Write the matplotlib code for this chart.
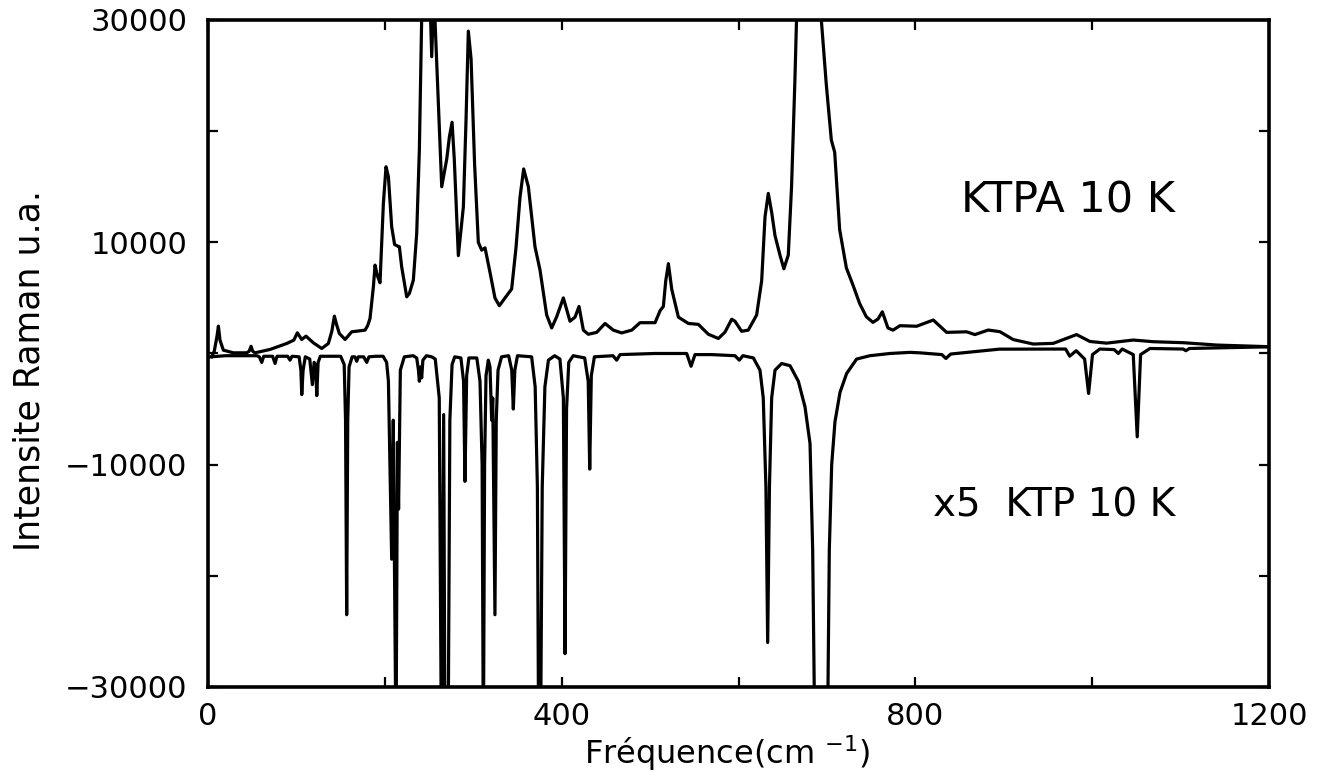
import matplotlib
matplotlib.use('Agg')
import matplotlib.pyplot as plt
import matplotlib.ticker as ticker

# KTPA 10 K spectrum (values above 30000 are clipped)
ktpa_freq = [4, 7, 10, 11.7, 13.5, 17.3, 28.6, 43.7, 46.5, 48.6, 50.5, 53.2, 70, 89, 97, 101,
             105.9, 110.8, 119.1, 128.6, 136.1, 140, 142.9, 145, 148.5, 155, 162.5, 177.6, 180.5,
             183.2, 185, 187, 188.9, 191.5, 194.5, 196.5, 198.3, 201.3, 204, 207.7, 211, 214.5,
             216.4, 219, 224.7, 227.7, 232.2, 236, 239, 241.6, 243.5, 249.5, 253, 255.5, 256.7,
             262.3, 264.3, 270, 273, 276, 278.5, 283.1, 288.8, 291.8, 294.4, 297.5, 301.5, 305.7,
             309.5, 313.3, 318.9, 324.5, 329.5, 335.9, 343.4, 348.3, 352.9, 357, 362.3, 369.8,
             375.5, 383, 388.7, 394.3, 401.9, 409.4, 415.1, 419.6, 424.5, 430.1, 439.6, 449,
             458.4, 467.9, 479.2, 488.6, 505.6, 511.3, 515, 517.7, 520.7, 524.5, 532, 543.3,
             554.6, 565.9, 577.2, 584.7, 592.3, 596, 603.5, 611, 620.5, 626.2, 630, 633.7, 637.5,
             641.3, 646.9, 651.3, 656.3, 660, 663.8, 665.7, 668, 690, 693.7, 699.3, 705, 708.8,
             714.4, 722, 729.5, 737, 744.6, 752.1, 757.8, 762.7, 769, 774.7, 782.6, 801.5, 820.3,
             835.4, 858, 867.4, 882.5, 895.7, 910.8, 933.4, 956, 982.4, 997.5, 1016.3, 1046.5,
             1069, 1103, 1140.6, 1200]
ktpa_int = [-300, 200, 1500, 2460, 1200, 300, 60, 60, 200, 650, 200, 60, 360, 900, 1200, 1860,
            1260, 1560, 960, 450, 900, 2000, 3360, 2700, 1800, 1260, 1950, 2100, 2500,
            3150, 4500, 6000, 7950, 7000, 6360, 10000, 13500, 16800, 15900, 11400, 9800, 9660,
            9600, 7800, 5100, 5400, 6600, 10800, 18300, 30000, 36000, 36000, 26700, 33000, 30000,
            18850, 15000, 17500, 19500, 20800, 17500, 8800, 13200, 21000, 29000, 26500, 17000, 10000,
            9300, 9500, 7300, 5000, 4300, 5000, 5800, 9500, 14100, 16600, 15000, 9600,
            7500, 3460, 2300, 3300, 5000, 2900, 3270, 4230, 2100, 1730, 1900, 2700,
            2100, 1850, 2100, 2770, 2770, 3850, 4230, 6540, 8080, 5770, 3270, 2700,
            2620, 1730, 1350, 1920, 3080, 2900, 2000, 2100, 3460, 6540, 12300, 14400, 12700,
            10600, 8850, 7620, 8850, 15000, 24600, 30000, 38000, 38000, 30000, 24200, 19200, 18100,
            11150, 7700, 6150, 4500, 3300, 2800, 3100, 3750, 2300, 2100, 2500, 2450, 3010,
            1900, 1950, 1700, 2110, 1960, 1250, 850, 910, 1700, 1080, 930, 1210,
            1060, 970, 760, 610]

# x5 KTP 10 K spectrum, drawn downwards (values below -30000 are clipped)
ktp_freq = [3, 20, 55, 58, 60.7, 63, 73, 75.8, 78, 90, 92.7, 95, 103, 105, 106, 107.5, 110, 115,
            118, 120, 121.5, 123, 124.5, 127, 150, 154, 155.5, 156.8, 158, 159.5, 163, 166, 168.2,
            170, 176, 179.5, 182, 190, 198, 202, 204, 207.7, 209.5, 212.6, 214.2, 215.5, 217.5,
            222, 232, 236, 238, 239, 240.5, 241.6, 243, 247, 253, 257, 261.5, 264, 266.5, 268,
            271.5, 273.5, 276, 279, 286, 289, 290.6, 292.5, 295, 304, 307.6, 310, 311.4, 312.8,
            314.4, 317, 318.9, 320.8, 322, 324.5, 326, 328, 332, 340, 343.5, 345.3, 347, 350, 366,
            370, 372.5, 374, 376, 378, 381, 385, 392, 398, 401.9, 403.8, 405.5, 408, 413, 426, 430,
            431.7, 433.5, 437, 458, 462.2, 466, 505.6, 541.4, 546.3, 550.8, 569.6, 596, 600.9,
            605, 616.8, 624.3, 628, 631, 633, 635, 637.5, 641.3, 648.8, 658.3, 667.7, 675.2, 680.9,
            683.9, 686.5, 700.5, 702.7, 705.4, 709.1, 714.8, 722.3, 733.6, 748.7, 771.3, 793.9,
            805, 830, 834.6, 840, 895, 970, 974.6, 982, 991.5, 996, 1000.4, 1008.7, 1025, 1029.6,
            1034, 1046.5, 1051, 1054.8, 1065.4, 1103, 1106, 1110, 1200]
ktp_int = [-300, -200, -200, -300, -800, -250, -250, -900, -250, -250, -600, -250, -300, -1500,
           -3700, -1500, -300, -500, -2800, -800, -1000, -3800, -800, -250, -250, -1000, -6000,
           -23500, -6000, -1200, -300, -300, -700, -300, -300, -800, -300, -250, -250, -800, -2500,
           -18500, -6000, -36000, -8000, -14000, -1500, -300, -200, -400, -1500, -2500, -1200,
           -2200, -600, -200, -300, -500, -4000, -36000, -5500, -36000, -36000, -6000, -1000, -300,
           -400, -2500, -11500, -2000, -400, -400, -2500, -10000, -36000, -10000, -2000, -600,
           -1200, -6000, -4000, -23500, -6000, -1500, -300, -200, -1500, -5000, -1500, -200, -300,
           -3000, -12000, -36000, -36000, -12000, -3000, -600, -200, -500, -4000, -27000, -5000,
           -800, -200, -400, -2500, -10400, -2000, -300, -200, -600, -100, 0, 0, -1150, -100,
           -100, -200, -600, -200, -400, -1500, -4000, -12000, -26000, -12000, -4000, -1500, -900,
           -1100, -2500, -4800, -8100, -17700, -36000, -36000, -17700, -10000, -6150, -3500,
           -1800, -500, -200, 0, 100, 60, -100, -450, -50, 390, 400, -240, 250, -500, -3600, -100,
           400, 350, 0, 400, -100, -7500, -100, 450, 400, 250, 450, 600]

x_major = [0, 400, 800, 1200]
x_minor = [200, 600, 1000]
y_major = [-30000, -10000, 10000, 30000]
y_minor = [-20000, 0, 20000]
y_tick_labels = ['\u221230000', '\u221210000', '10000', '30000']

fig = plt.figure(figsize=(13.21, 7.78), dpi=100, facecolor='w')
ax = fig.add_axes([0.1575, 0.117, 0.8031, 0.8573])

ax.plot(ktpa_freq, ktpa_int, color='k', linewidth=2.3)
ax.plot(ktp_freq, ktp_int, color='k', linewidth=2.3)

ax.set_xlim(0, 1200)
ax.set_ylim(-30000, 30000)

ax.xaxis.set_major_locator(ticker.FixedLocator(x_major))
ax.xaxis.set_minor_locator(ticker.FixedLocator(x_minor))
ax.yaxis.set_major_locator(ticker.FixedLocator(y_major))
ax.yaxis.set_minor_locator(ticker.FixedLocator(y_minor))
ax.yaxis.set_major_formatter(ticker.FixedFormatter(y_tick_labels))

ax.tick_params(which='both', direction='in', top=True, right=True, length=7, width=1.6)
ax.tick_params(axis='y', which='major', labelsize=22, pad=15)
ax.tick_params(axis='x', which='major', labelsize=22, pad=11)

for s in ax.spines.values():
    s.set_linewidth(2.6)

ax.set_xlabel('Fréquence(cm $^{-1}$)', fontsize=23)
ax.set_ylabel('Intensite Raman u.a.', fontsize=25)
ax.xaxis.set_label_coords(0.489, -0.07)
ax.yaxis.set_label_coords(-0.152, 0.475)

ax.text(1094, 12640, 'KTPA 10 K', fontsize=31, ha='right', va='baseline')
ax.text(1094, -14620, 'x5  KTP 10 K', fontsize=28, ha='right', va='baseline')

fig.savefig('out.png', dpi=100)
